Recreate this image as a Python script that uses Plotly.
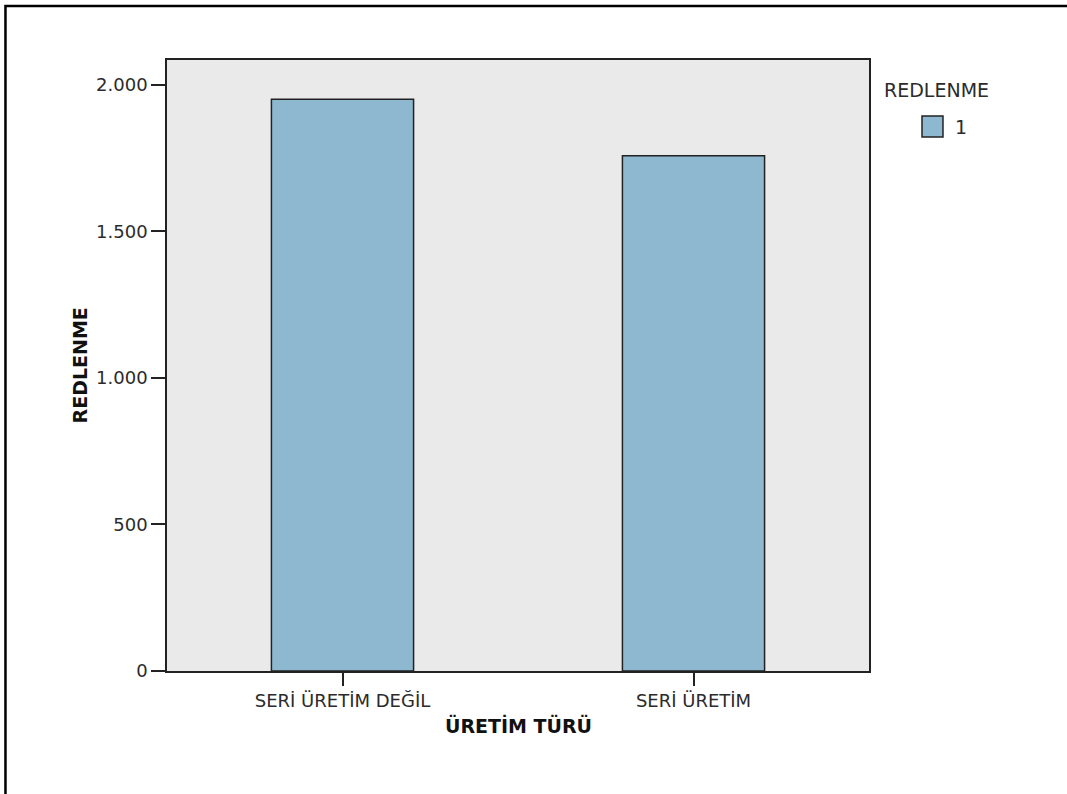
import plotly.graph_objects as go

# Data
categories = ["SERİ ÜRETİM DEĞİL", "SERİ ÜRETİM"]
values = [1951, 1758]
y_ticks = [0, 500, 1000, 1500, 2000]
legend_title = "REDLENME"
legend_label = "1"

FONT = "Verdana, DejaVu Sans, sans-serif"
INK = "#222222"
TEXT = "#2b2b2b"
BAR_FILL = "#8DB8CF"

fig = go.Figure(
    go.Bar(
        x=categories,
        y=values,
        width=0.405,
        marker=dict(color=BAR_FILL, line=dict(color=INK, width=1.5)),
        showlegend=False,
        hovertemplate="%{x}: %{y}<extra></extra>",
    )
)

fig.update_layout(
    width=1067,
    height=794,
    autosize=False,
    margin=dict(l=167, r=198, t=60, b=123),
    paper_bgcolor="white",
    plot_bgcolor="#EAEAEA",
    separators=",.",
    font=dict(family=FONT, size=18, color=TEXT),
)

fig.update_xaxes(
    type="category",
    range=[-0.5, 1.5],
    showline=True,
    linecolor=INK,
    linewidth=1.5,
    mirror=True,
    ticks="outside",
    ticklen=13,
    tickwidth=1.5,
    tickcolor=INK,
    showgrid=False,
    tickfont=dict(family=FONT, size=18, color=TEXT),
)

fig.update_yaxes(
    range=[0, 2085],
    tickvals=y_ticks,
    tickformat=",d",
    showline=True,
    linecolor=INK,
    linewidth=1.5,
    mirror=True,
    ticks="outside",
    ticklen=14,
    tickwidth=1.5,
    tickcolor=INK,
    showgrid=False,
    zeroline=False,
    tickfont=dict(family=FONT, size=18, color=TEXT),
)

annotations = [
    # axis titles
    dict(text="<b>ÜRETİM TÜRÜ</b>", xref="paper", yref="paper", x=0.5, y=-0.0884,
         showarrow=False, xanchor="center", yanchor="middle",
         font=dict(family=FONT, size=19, color="#111111")),
    dict(text="<b>REDLENME</b>", xref="paper", yref="paper", x=-0.124, y=0.5,
         showarrow=False, xanchor="center", yanchor="middle", textangle=-90,
         font=dict(family=FONT, size=19, color="#111111")),
    # legend
    dict(text=legend_title, xref="paper", yref="paper", x=1.0185, y=0.951,
         showarrow=False, xanchor="left", yanchor="middle",
         font=dict(family=FONT, size=19, color=TEXT)),
    dict(text=legend_label, xref="paper", yref="paper", x=1.1197, y=0.890,
         showarrow=False, xanchor="left", yanchor="middle",
         font=dict(family=FONT, size=19, color=TEXT)),
]

shapes = [
    # legend swatch
    dict(type="rect", xref="paper", yref="paper", x0=1.0755, x1=1.1054, y0=0.874, y1=0.9083,
         fillcolor=BAR_FILL, line=dict(color=INK, width=1.5)),
    # outer frame (left and top edges)
    dict(type="path", xref="paper", yref="paper",
         path="M -0.2301,-0.22 L -0.2301,1.0884 L 1.29,1.0884",
         line=dict(color="black", width=2.5)),
]

fig.update_layout(annotations=annotations, shapes=shapes)

fig.write_html("out.html")
